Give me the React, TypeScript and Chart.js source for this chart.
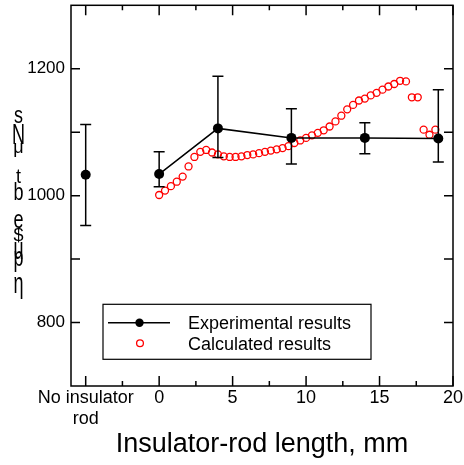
import React, { useEffect, useRef } from 'react';
import { Chart, registerables } from 'chart.js';

Chart.register(...registerables);

const FONT = '"Liberation Sans", Arial, Helvetica, sans-serif';

// ---- data ----
const expRodLengths = [0, 4, 9, 14, 19];
const expValues = [1034, 1106, 1091, 1091, 1090];
const expErrLow = [1014, 1060, 1050, 1066, 1053];
const expErrHigh = [1069, 1188, 1137, 1115, 1167];

const noRodX = [-5];
const noRodValue = [1033];
const noRodErrLow = [953];
const noRodErrHigh = [1112];

const calcRodLengths = [
  0, 0.4, 0.8, 1.2, 1.6, 2.0, 2.4, 2.8, 3.2, 3.6, 4.0, 4.4, 4.8, 5.2, 5.6, 6.0,
  6.4, 6.8, 7.2, 7.6, 8.0, 8.4, 8.8, 9.2, 9.6, 10.0, 10.4, 10.8, 11.2, 11.6, 12.0, 12.4,
  12.8, 13.2, 13.6, 14.0, 14.4, 14.8, 15.2, 15.6, 16.0, 16.4, 16.8, 17.2, 17.6, 18.0, 18.4, 18.8,
];
const calcValues = [
  1001, 1008, 1015, 1022, 1030, 1046, 1061, 1069, 1072, 1068, 1065, 1062, 1061, 1061, 1062, 1064,
  1065, 1067, 1069, 1071, 1073, 1075, 1078, 1083, 1087, 1091, 1095, 1099, 1103, 1109, 1117, 1126,
  1136, 1143, 1150, 1153, 1158, 1162, 1167, 1172, 1176, 1181, 1180, 1155, 1155, 1104, 1096, 1104,
];

const xLabelValues = [-5, 0, 5, 10, 15, 20];
const xLabelTexts: (string | string[])[] = [['No insulator', 'rod'], '0', '5', '10', '15', '20'];
const xMinorTicks = [-2.5, 2.5, 7.5, 12.5, 17.5];
const yLabelValues = [800, 1000, 1200];
const yMinorTicks = [900, 1100];
const legendLabels = ['Experimental results', 'Calculated results'];
const xTitle = 'Insulator-rod length, mm';
const yTitleGlyphs = ['s', 'N', 'μ', 't', 'b', 'e', '$', 'u', 'p', 'η'];

// ---- drawing helpers ----
const yGlyphLayout = [
  { b: 123, s: 1.35 },
  { b: 143.5, s: 1.65 },
  { b: 153, s: 1.0 },
  { b: 183, s: 1.1 },
  { b: 200, s: 1.35 },
  { b: 228, s: 1.4 },
  { b: 241, s: 1.0 },
  { b: 259, s: 1.7 },
  { b: 266, s: 1.5 },
  { b: 293, s: 1.6 },
];

const decorPlugin = {
  id: 'decor',
  afterDatasetsDraw(chart: any) {
    const { ctx, chartArea: a, scales } = chart;
    const x = scales.x;
    const y = scales.y;
    ctx.save();
    ctx.strokeStyle = '#000';
    ctx.lineWidth = 1.5;

    // error bars
    const bars: number[][] = [];
    noRodX.forEach((v, i) => bars.push([v, noRodErrLow[i], noRodErrHigh[i]]));
    expRodLengths.forEach((v, i) => bars.push([v, expErrLow[i], expErrHigh[i]]));
    ctx.beginPath();
    for (const [xv, lo, hi] of bars) {
      const px = x.getPixelForValue(xv);
      const p1 = y.getPixelForValue(lo);
      const p2 = y.getPixelForValue(hi);
      ctx.moveTo(px, p1);
      ctx.lineTo(px, p2);
      ctx.moveTo(px - 5.5, p1);
      ctx.lineTo(px + 5.5, p1);
      ctx.moveTo(px - 5.5, p2);
      ctx.lineTo(px + 5.5, p2);
    }
    ctx.stroke();

    // frame
    ctx.strokeRect(a.left, a.top, a.right - a.left, a.bottom - a.top);

    // inward ticks
    ctx.beginPath();
    const xt = (v: number, len: number) => {
      const px = x.getPixelForValue(v);
      ctx.moveTo(px, a.bottom);
      ctx.lineTo(px, a.bottom - len);
      ctx.moveTo(px, a.top);
      ctx.lineTo(px, a.top + len);
    };
    xLabelValues.forEach((v) => xt(v, 10));
    xMinorTicks.forEach((v) => xt(v, 5));
    [...yLabelValues, ...yMinorTicks].forEach((v) => {
      const py = y.getPixelForValue(v);
      ctx.moveTo(a.left, py);
      ctx.lineTo(a.left + 9, py);
      ctx.moveTo(a.right, py);
      ctx.lineTo(a.right - 9, py);
    });
    ctx.stroke();

    // legend
    const lx = a.left + 32;
    const ly = a.top + 299;
    const lw = 268;
    const lh = 55;
    ctx.fillStyle = '#fff';
    ctx.fillRect(lx, ly, lw, lh);
    ctx.lineWidth = 1.2;
    ctx.strokeRect(lx, ly, lw, lh);
    const row1 = ly + 18.5;
    const row2 = ly + 39;
    ctx.lineWidth = 1.5;
    ctx.beginPath();
    ctx.moveTo(lx + 5, row1);
    ctx.lineTo(lx + 67, row1);
    ctx.stroke();
    ctx.fillStyle = '#000';
    ctx.beginPath();
    ctx.arc(lx + 36.5, row1, 4.2, 0, Math.PI * 2);
    ctx.fill();
    ctx.strokeStyle = '#ff0000';
    ctx.lineWidth = 1.3;
    ctx.beginPath();
    ctx.arc(lx + 37, row2, 3.4, 0, Math.PI * 2);
    ctx.stroke();
    ctx.fillStyle = '#000';
    ctx.font = `18px ${FONT}`;
    ctx.textAlign = 'left';
    ctx.textBaseline = 'alphabetic';
    ctx.fillText(legendLabels[0], lx + 85, row1 + 6);
    ctx.fillText(legendLabels[1], lx + 85, row2 + 6.5);

    // y-axis title glyphs (stacked)
    ctx.textAlign = 'center';
    yTitleGlyphs.forEach((g, i) => {
      const L = yGlyphLayout[i];
      ctx.save();
      ctx.translate(18.5, L.b);
      ctx.scale(1, L.s);
      ctx.fillText(g, 0, 0);
      ctx.restore();
    });
    ctx.restore();
  },
};

export default function App() {
  const ref = useRef<HTMLCanvasElement | null>(null);
  useEffect(() => {
    if (!ref.current) return;
    Chart.defaults.font.family = FONT;
    Chart.defaults.color = '#000';
    const chart = new Chart(ref.current, {
      type: 'line',
      data: {
        datasets: [
          {
            label: legendLabels[0],
            data: expRodLengths.map((v, i) => ({ x: v, y: expValues[i] })),
            borderColor: '#000',
            backgroundColor: '#000',
            borderWidth: 1.5,
            pointRadius: 5,
            pointBackgroundColor: '#000',
            pointBorderColor: '#000',
            pointBorderWidth: 0,
            showLine: true,
            tension: 0,
          },
          {
            label: 'no rod',
            data: noRodX.map((v, i) => ({ x: v, y: noRodValue[i] })),
            borderColor: '#000',
            backgroundColor: '#000',
            pointRadius: 5,
            pointBackgroundColor: '#000',
            pointBorderWidth: 0,
            showLine: false,
          },
          {
            label: legendLabels[1],
            data: calcRodLengths.map((v, i) => ({ x: v, y: calcValues[i] })),
            borderColor: '#ff0000',
            backgroundColor: 'rgba(0,0,0,0)',
            pointRadius: 3.5,
            pointBorderWidth: 1.3,
            pointBorderColor: '#ff0000',
            pointBackgroundColor: 'rgba(0,0,0,0)',
            showLine: false,
          },
        ],
      },
      options: {
        responsive: false,
        animation: false,
        events: [],
        layout: { padding: { left: 0, right: 11, top: 5, bottom: 0 } },
        plugins: { legend: { display: false }, tooltip: { enabled: false } },
        scales: {
          x: {
            type: 'linear',
            min: -6,
            max: 20,
            grid: { display: false, drawTicks: false },
            border: { display: false },
            afterBuildTicks: (s: any) => {
              s.ticks = xLabelValues.map((v) => ({ value: v }));
            },
            afterFit: (s: any) => {
              s.height = 79;
              s.paddingLeft = 0;
              s.paddingRight = 0;
            },
            ticks: {
              autoSkip: false,
              maxRotation: 0,
              padding: 2,
              color: '#000',
              font: { size: 18, lineHeight: 1.15 },
              callback: (v: any) => {
                const i = xLabelValues.indexOf(Number(v));
                return i >= 0 ? xLabelTexts[i] : '';
              },
            },
            title: {
              display: true,
              text: xTitle,
              color: '#000',
              font: { size: 27 },
              padding: { top: 0, bottom: 4 },
            },
          },
          y: {
            type: 'linear',
            min: 700,
            max: 1300,
            grid: { display: false, drawTicks: false },
            border: { display: false },
            afterBuildTicks: (s: any) => {
              s.ticks = yLabelValues.map((v) => ({ value: v }));
            },
            afterFit: (s: any) => {
              s.width = 71;
              s.paddingTop = 0;
              s.paddingBottom = 0;
            },
            ticks: {
              padding: 6,
              color: '#000',
              font: { size: 17 },
              callback: (v: any) => String(v),
            },
          },
        },
      } as any,
      plugins: [decorPlugin],
    });
    return () => chart.destroy();
  }, []);
  return (
    <div style={{ position: 'fixed', left: 0, top: 0, width: 464, height: 465, background: '#fff' }}>
      <canvas ref={ref} width={464} height={465} style={{ display: 'block' }} />
    </div>
  );
}
